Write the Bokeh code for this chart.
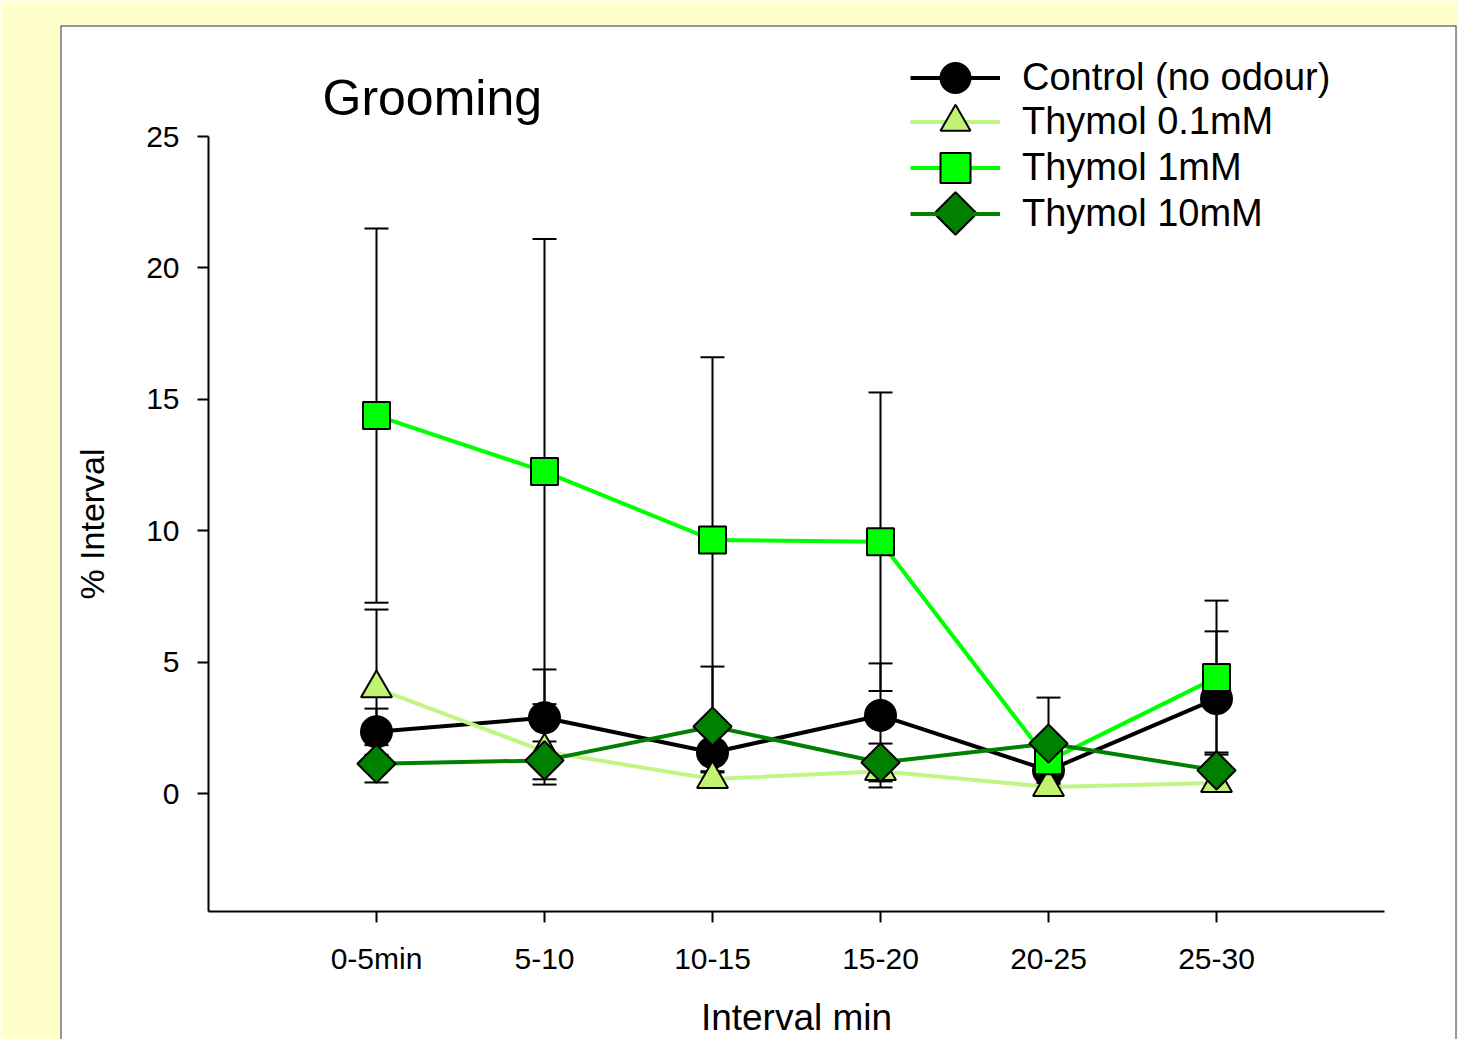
from bokeh.plotting import figure
from bokeh.models import (Range1d, LinearAxis, FixedTicker, Whisker, TeeHead,
                          ColumnDataSource, Legend, LegendItem, Span, Label)
from bokeh.embed import file_html
from bokeh.resources import INLINE

# ---------------- data ----------------
categories = ["0-5min", "5-10", "10-15", "15-20", "20-25", "25-30"]
series_names = ["Control (no odour)", "Thymol 0.1mM", "Thymol 1mM", "Thymol 10mM"]

control = [2.35, 2.88, 1.56, 2.97, 0.88, 3.61]
control_err = [0.88, 1.84, 0.76, 1.98, 0.50, 2.56]

thymol_01 = [4.00, 1.60, 0.55, 0.85, 0.25, 0.40]
thymol_01_err = [3.00, 1.26, 0.30, 0.62, 0.20, 0.25]

thymol_1 = [14.38, 12.25, 9.65, 9.58, 1.25, 4.41]
thymol_1_err = [7.12, 8.85, 6.95, 5.68, 0.90, 2.93]

thymol_10 = [1.13, 1.26, 2.55, 1.18, 1.90, 0.88]
thymol_10_err = [0.71, 0.72, 2.28, 0.72, 1.75, 0.68]

y_ticks = [0, 5, 10, 15, 20, 25]
y_axis_min, y_axis_max = -4.5, 25
x_axis_min, x_axis_max = -1, 6

# ---------------- layout (pixels) ----------------
FONT = "Liberation Sans"
W, H = 1458, 1039
BL, BR, BT, BB = 60, 2, 25, 0
frame_w = W - BL - BR
frame_h = H - BT - BB
px_per_x = 168.0
px_per_y = 26.28
x0_px = 376.0      # canvas x of first category
y0_px = 793.0      # canvas y of value 0
xs = -(x0_px - BL) / px_per_x
xe = xs + frame_w / px_per_x
ye = (y0_px - BT) / px_per_y
ys = ye - frame_h / px_per_y


def dx(px):   # canvas x -> data x (for decorations only)
    return (px - x0_px) / px_per_x


def dy(py):   # canvas y -> data y (for decorations only)
    return (y0_px - py) / px_per_y


p = figure(width=W, height=H, x_range=Range1d(xs, xe), y_range=Range1d(ys, ye),
           output_backend="svg", toolbar_location=None,
           x_axis_location=None, y_axis_location=None,
           min_border_left=BL, min_border_right=BR,
           min_border_top=BT, min_border_bottom=BB)
p.background_fill_color = "white"
p.border_fill_color = "#FFFFCC"
p.outline_line_color = None
p.grid.visible = False

# panel border (left, right, top)
for loc, dim in [(xs, "height"), (xe, "height"), (ye, "width")]:
    p.add_layout(Span(location=loc, dimension=dim, line_color="#333333", line_width=2))

x = list(range(len(categories)))

styles = [
    dict(color="#000000", fill="#000000", marker="circle", size=31, angle=0.0),
    dict(color="#C2F585", fill="#C2F272", marker="triangle", size=31, angle=0.0),
    dict(color="#00FF00", fill="#00FF00", marker="square", size=27, angle=0.0),
    dict(color="#008000", fill="#008000", marker="square", size=27, angle=0.785398),
]
values = [control, thymol_01, thymol_1, thymol_10]
errors = [control_err, thymol_01_err, thymol_1_err, thymol_10_err]

# error bars
for vals, errs in zip(values, errors):
    src = ColumnDataSource(dict(x=x,
                                upper=[v + e for v, e in zip(vals, errs)],
                                lower=[v - e for v, e in zip(vals, errs)]))
    w = Whisker(base="x", upper="upper", lower="lower", source=src, dimension="height",
                line_color="black", line_width=2, level="underlay",
                upper_head=TeeHead(size=24, line_width=2, line_color="black"),
                lower_head=TeeHead(size=24, line_width=2, line_color="black"))
    p.add_layout(w)

line_rs = []
for vals, st in zip(values, styles):
    line_rs.append(p.line(x, vals, line_color=st["color"], line_width=4))

marker_rs = []
for vals, st in zip(values, styles):
    marker_rs.append(p.scatter(x, vals, marker=st["marker"], size=st["size"], angle=st["angle"],
                               fill_color=st["fill"], line_color="black", line_width=2))

# axes
yaxis = LinearAxis(fixed_location=x_axis_min, bounds=(y_axis_min, y_axis_max),
                   ticker=FixedTicker(ticks=y_ticks, minor_ticks=[]))
yaxis.axis_label = "% Interval"
xaxis = LinearAxis(fixed_location=y_axis_min, bounds=(x_axis_min, x_axis_max),
                   ticker=FixedTicker(ticks=x, minor_ticks=[]),
                   major_label_overrides={i: c for i, c in enumerate(categories)})
xaxis.axis_label = "Interval min"
for ax in (xaxis, yaxis):
    ax.axis_line_color = "black"
    ax.axis_line_width = 2
    ax.major_tick_line_color = "black"
    ax.major_tick_line_width = 2
    ax.major_tick_out = 11
    ax.major_tick_in = 0
    ax.minor_tick_line_color = None
    ax.major_label_text_font = FONT
    ax.major_label_text_font_size = "30px"
    ax.major_label_text_color = "black"
    ax.axis_label_text_font = FONT
    ax.axis_label_text_font_style = "normal"
    ax.axis_label_text_color = "black"
yaxis.major_label_standoff = 18
yaxis.axis_label_text_font_size = "34px"
yaxis.axis_label_standoff = 32
xaxis.major_label_standoff = 19
xaxis.axis_label_text_font_size = "37px"
xaxis.axis_label_standoff = 19
p.add_layout(yaxis, "left")
p.add_layout(xaxis, "below")

# title
p.add_layout(Label(x=dx(322), y=dy(97), text="Grooming",
                   text_font=FONT, text_font_size="50px", text_color="black",
                   text_baseline="alphabetic", text_align="left"))

# legend: one single-entry legend per series (entries 45 px apart, 30 px symbols)
legend_left = 910
legend_centers = [77, 122, 168, 213]
glyph_h = 75
for i, (name, lr, mr) in enumerate(zip(series_names, line_rs, marker_rs)):
    rends = [lr] if i == 3 else [lr, mr]
    vy = int(round(H - BB - (legend_centers[i] + glyph_h / 2)))
    lg = Legend(items=[LegendItem(label=name, renderers=rends)],
                location=(legend_left - BL, vy), glyph_width=90, glyph_height=glyph_h,
                spacing=0, padding=0, margin=0, label_standoff=22,
                label_text_font=FONT, label_text_font_size="38px", label_text_color="black",
                border_line_color=None, background_fill_alpha=0)
    p.add_layout(lg)

# diamond symbol of the last legend entry (Bokeh legends do not rotate markers)
st = styles[3]
p.scatter([dx(legend_left + 45)], [dy(legend_centers[3])], marker=st["marker"], size=30,
          angle=st["angle"], fill_color=st["fill"], line_color="black", line_width=2,
          level="overlay")

open("out.html", "w").write(file_html(p, INLINE))
